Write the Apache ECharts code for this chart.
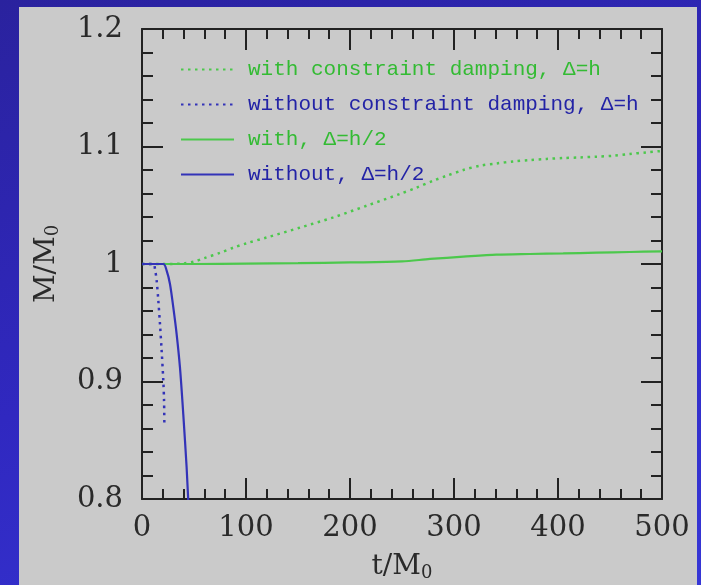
<!DOCTYPE html>
<html><head><meta charset="utf-8">
<script src="https://cdn.jsdelivr.net/npm/echarts@6/dist/echarts.min.js"></script>
<style>
html,body{margin:0;padding:0;}
body{width:701px;height:585px;background:linear-gradient(160deg,#2a229e 0%,#3028c0 50%,#3636d6 100%);position:relative;overflow:hidden;}
#panel{position:absolute;left:19px;top:7px;width:678px;height:578px;background:#cacaca;}
#chart{position:absolute;left:0;top:0;width:701px;height:585px;}
</style></head><body><div id="panel"></div><div id="chart"></div>
<script>
const seriesNames = ['with constraint damping, \u0394=h', 'without constraint damping, \u0394=h', 'with, \u0394=h/2', 'without, \u0394=h/2'];
const xTickLabels = ['0', '100', '200', '300', '400', '500'];
const yTickLabels = ['0.8', '0.9', '1', '1.1', '1.2'];

const greenDotT = [0, 20, 40, 50, 60, 75, 88, 100, 120, 152, 184, 216, 248, 264, 280, 293, 309, 325, 341, 357, 373, 389, 405, 421, 437, 453, 469, 485, 500];
const greenDotM = [1.0, 1.0, 1.0005, 1.002, 1.005, 1.0095, 1.014, 1.0175, 1.0226, 1.031, 1.0397, 1.0496, 1.0596, 1.065, 1.0709, 1.0751, 1.080, 1.0837, 1.0856, 1.0873, 1.0885, 1.0894, 1.0902, 1.0907, 1.0913, 1.0921, 1.0936, 1.095, 1.0962];

const blueDotT = [0, 11, 12.5, 14.1, 15.7, 17.3, 18.9, 20.5, 21.2, 21.5];
const blueDotM = [1.0, 1.0, 0.9957, 0.9858, 0.9688, 0.9489, 0.926, 0.9007, 0.8837, 0.864];

const greenSolidT = [0, 50, 100, 150, 200, 250, 277, 309, 341, 373, 405, 437, 469, 500];
const greenSolidM = [1.0, 1.0, 1.0003, 1.0007, 1.0013, 1.0022, 1.0043, 1.0062, 1.0079, 1.0085, 1.009, 1.0096, 1.0102, 1.0108];

const blueSolidT = [0, 20.5, 23.7, 26.9, 30.1, 33.3, 36.5, 39.7, 42.9, 44.5, 46];
const blueSolidM = [1.0, 1.0, 0.9943, 0.983, 0.963, 0.9404, 0.912, 0.872, 0.827, 0.7986, 0.78];

const pair = (ts, ms) => ts.map((t, i) => [t, ms[i]]);

const GREEN = '#4cc84c', BLUE = '#3333b8';
const GREEN_TXT = '#33bb33', BLUE_TXT = '#2323a6';
const AX = '#222';
const FONT = 'DejaVu Serif';

const chart = echarts.init(document.getElementById('chart'), null, {renderer: 'canvas'});

function xAx(pos, main) {
  return {
    type: 'value', position: pos, min: 0, max: 500, interval: 100,
    axisLine: {show: true, onZero: false, lineStyle: {color: AX, width: 2}},
    axisTick: {show: true, inside: true, length: 21, lineStyle: {color: AX, width: 2}},
    minorTick: {show: true, splitNumber: 5, length: 10, lineStyle: {color: AX, width: 2}},
    splitLine: {show: false}, minorSplitLine: {show: false},
    axisLabel: {show: main, margin: 15, fontFamily: FONT, fontSize: 29, color: '#2a2a2a',
      formatter: v => xTickLabels[Math.round(v / 100)]},
    name: main ? '{a|t/M}{s|0}' : '', nameLocation: 'middle', nameGap: 53,
    nameTextStyle: {rich: {a: {fontFamily: FONT, fontSize: 28, color: '#2a2a2a'},
                           s: {fontFamily: FONT, fontSize: 18, color: '#2a2a2a', padding: [12, 0, 0, 0]}}}
  };
}
function yAx(pos, main) {
  return {
    type: 'value', position: pos, min: 0.8, max: 1.2, interval: 0.1,
    axisLine: {show: true, onZero: false, lineStyle: {color: AX, width: 2}},
    axisTick: {show: true, inside: true, length: 21, lineStyle: {color: AX, width: 2}},
    minorTick: {show: true, splitNumber: 5, length: 11, lineStyle: {color: AX, width: 2}},
    splitLine: {show: false}, minorSplitLine: {show: false},
    axisLabel: {show: main, margin: 19, fontFamily: FONT, fontSize: 29, color: '#2a2a2a',
      formatter: v => yTickLabels[Math.round((v - 0.8) / 0.1)]},
    name: main ? '{a|M/M}{s|0}' : '', nameLocation: 'middle', nameGap: 80,
    nameTextStyle: {rich: {a: {fontFamily: FONT, fontSize: 28, color: '#2a2a2a'},
                           s: {fontFamily: FONT, fontSize: 18, color: '#2a2a2a', padding: [12, 0, 0, 0]}}}
  };
}

const option = {
  animation: false,
  backgroundColor: 'transparent',
  grid: {left: 142, right: 39, top: 29, bottom: 86, containLabel: false, outerBoundsMode: 'none'},
  xAxis: [xAx('bottom', true), xAx('top', false)],
  yAxis: [yAx('left', true), yAx('right', false)],
  legend: {
    orient: 'vertical', left: 180, top: 59, padding: 0, itemWidth: 53, itemHeight: 14, itemGap: 14,
    selectedMode: false,
    itemStyle: {opacity: 0},
    textStyle: {fontFamily: 'Liberation Mono', fontSize: 21, lineHeight: 21, padding: [0, 0, 0, 9]},
    data: [
      {name: seriesNames[0], textStyle: {color: GREEN_TXT}},
      {name: seriesNames[1], textStyle: {color: BLUE_TXT}},
      {name: seriesNames[2], textStyle: {color: GREEN_TXT}},
      {name: seriesNames[3], textStyle: {color: BLUE_TXT}}
    ]
  },
  series: [
    {name: seriesNames[0], type: 'line', data: pair(greenDotT, greenDotM), showSymbol: false, symbol: 'none', smooth: 0.3,
     lineStyle: {color: GREEN, width: 2.5, type: [2.5, 4.5]}, itemStyle: {color: GREEN}},
    {name: seriesNames[1], type: 'line', data: pair(blueDotT, blueDotM), showSymbol: false, symbol: 'none', smooth: 0.3,
     lineStyle: {color: BLUE, width: 2.5, type: [2.5, 4.5]}, itemStyle: {color: BLUE}},
    {name: seriesNames[2], type: 'line', data: pair(greenSolidT, greenSolidM), showSymbol: false, symbol: 'none', smooth: 0.3,
     lineStyle: {color: GREEN, width: 2.2}, itemStyle: {color: GREEN}},
    {name: seriesNames[3], type: 'line', data: pair(blueSolidT, blueSolidM), showSymbol: false, symbol: 'none', smooth: 0.3,
     lineStyle: {color: BLUE, width: 2.2}, itemStyle: {color: BLUE}}
  ]
};
chart.setOption(option);
</script>
</body></html>
